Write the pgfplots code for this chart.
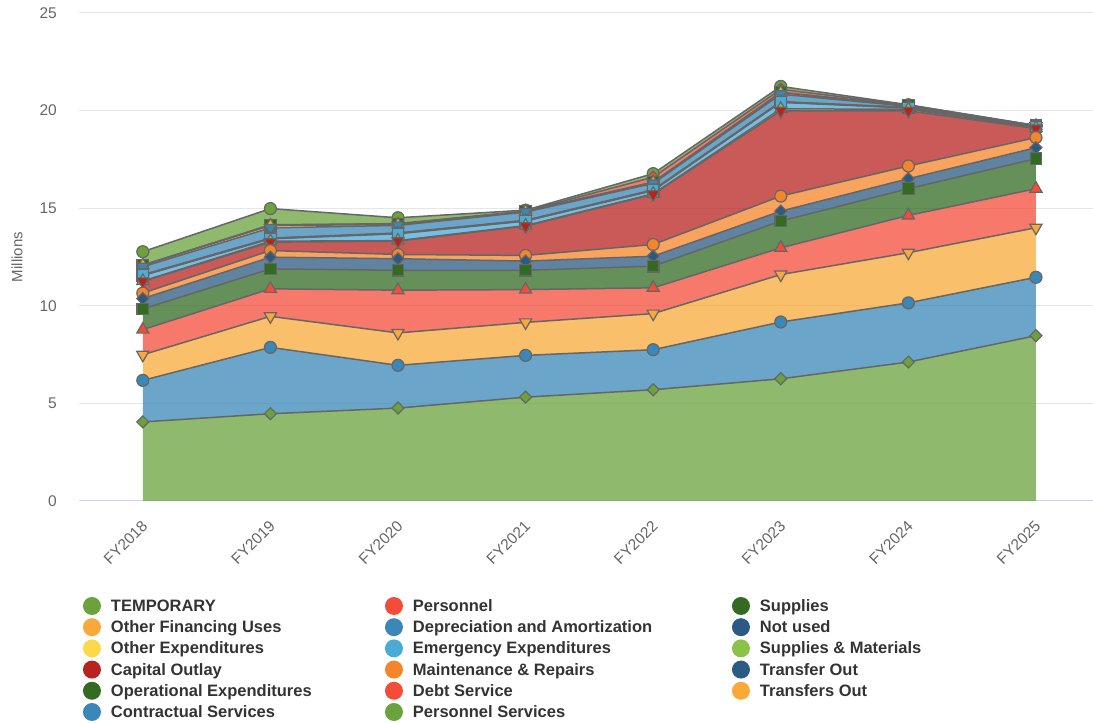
\documentclass[border=0pt]{standalone}
\usepackage{pgfplots}
\pgfplotsset{compat=1.18}
\usepackage{pgfplotstable}
\usepackage{fontspec}
\setmainfont{Liberation Sans}

\definecolor{cTE}{HTML}{6AA23C}
\definecolor{cPE}{HTML}{F34C3B}
\definecolor{cSU}{HTML}{336B22}
\definecolor{cOFU}{HTML}{F8A93A}
\definecolor{cDA}{HTML}{3A87B8}
\definecolor{cNU}{HTML}{2B5A82}
\definecolor{cOX}{HTML}{FCD94A}
\definecolor{cEE}{HTML}{4AAAD8}
\definecolor{cSM}{HTML}{8BC34A}
\definecolor{cCO}{HTML}{B8231F}
\definecolor{cMR}{HTML}{F5852A}
\definecolor{cTrO}{HTML}{2B5A82}
\definecolor{cOE}{HTML}{336B22}
\definecolor{cDS}{HTML}{F34C3B}
\definecolor{cTO}{HTML}{F8A93A}
\definecolor{cCS}{HTML}{3A87B8}
\definecolor{cPS}{HTML}{6AA23C}
\definecolor{tickgray}{HTML}{666666}
\definecolor{gridgray}{HTML}{E6E6E6}
\definecolor{axisblue}{HTML}{CCD6EB}
\definecolor{linegray}{HTML}{666666}
\definecolor{legtext}{HTML}{333333}

% values per series (millions), stacked bottom (PS) to top (TE)
\pgfplotstableread{
x PS   CS   TO   DS   OE   TrO  MR   CO   SM   EE   OX   NU   DA   OFU  SU   PE   TE
0 4.05 2.13 1.31 1.29 1.06 0.53 0.28 0.60 0.02 0.28 0.02 0.02 0.41 0.08 0.00 0.00 0.69
1 4.47 3.40 1.59 1.41 1.02 0.60 0.34 0.43 0.05 0.12 0.02 0.02 0.52 0.12 0.02 0.02 0.83
2 4.76 2.19 1.66 2.19 1.02 0.59 0.22 0.68 0.03 0.35 0.02 0.02 0.39 0.05 0.02 0.02 0.30
3 5.32 2.14 1.69 1.68 0.99 0.47 0.29 1.50 0.03 0.23 0.02 0.02 0.42 0.03 0.01 0.01 0.05
4 5.70 2.05 1.85 1.32 1.11 0.51 0.60 2.57 0.03 0.16 0.02 0.02 0.33 0.05 0.02 0.25 0.18
5 6.26 2.91 2.43 1.37 1.37 0.51 0.77 4.37 0.10 0.33 0.02 0.02 0.38 0.08 0.02 0.15 0.15
6 7.12 3.03 2.57 1.91 1.37 0.51 0.65 2.83 0.08 0.06 0.02 0.02 0.05 0.02 0.02 0.02 0.02
7 8.47 2.99 2.54 2.00 1.54 0.56 0.52 0.46 0.03 0.05 0.01 0.01 0.02 0.01 0.01 0.01 0.01
}\data

\tikzset{
  mk/.style={fill=#1, draw=linegray, line width=1.2pt},
}
\pgfplotsset{
  common/.style={
    at={(79pt,222pt)}, anchor=south west,
    scale only axis, width=1014pt, height=488pt,
    xmin=-0.5, xmax=7.447, ymin=0, ymax=25,
    stack plots=y,
  },
  ln/.style={line width=1.5pt, color=linegray, mark size=#1},
}

\begin{document}
\begin{tikzpicture}
\useasboundingbox (0,0) rectangle (1093pt,723pt);
\begin{axis}[common,
  xtick={0,...,7},
  xticklabels={FY2018,FY2019,FY2020,FY2021,FY2022,FY2023,FY2024,FY2025},
  ytick={0,5,10,15,20,25},
  ymajorgrids, grid style={draw=gridgray, line width=1pt},
  axis x line*=bottom, axis y line*=left,
  x axis line style={draw=axisblue, line width=1pt, -},
  y axis line style={draw=none},
  major tick length=0pt,
  /pgf/number format/assume math mode=true,
  tick label style={font=\fontsize{15.5}{18}\selectfont, text=tickgray},
  yticklabel style={anchor=east, inner sep=0pt, xshift=-22pt},
  xticklabel style={inner sep=0pt, xshift=2pt, yshift=-22pt, rotate=45, anchor=east},
  ylabel={Millions},
  every axis y label/.style={at={(axis description cs:-0.0611,0.5)}, rotate=90, anchor=center, font=\fontsize{15}{18}\selectfont, text=tickgray},
  legend image code/.code={\fill[#1, draw=none] (9pt,1.6pt) circle (9pt);},
  legend columns=3,
  legend style={at={(axis description cs:0.0039,-0.1967)}, anchor=north west,
    draw=none, fill=none, inner sep=0pt, outer sep=0pt, row sep=2.6pt,
    font=\fontsize{16.5}{19}\selectfont\bfseries, text=legtext,
    nodes={inner sep=0pt, text height=12pt, text depth=4pt},
    /tikz/every odd column/.append style={column sep=10pt},
    /tikz/every even column/.append style={column sep=0pt}},
  legend cell align=left,
]
\addlegendimage{fill=cTE}\addlegendentry{\makebox[274pt][l]{TEMPORARY}}
\addlegendimage{fill=cPE}\addlegendentry{\makebox[319pt][l]{Personnel}}
\addlegendimage{fill=cSU}\addlegendentry{Supplies}
\addlegendimage{fill=cOFU}\addlegendentry{\makebox[274pt][l]{Other Financing Uses}}
\addlegendimage{fill=cDA}\addlegendentry{\makebox[319pt][l]{Depreciation and Amortization}}
\addlegendimage{fill=cNU}\addlegendentry{Not used}
\addlegendimage{fill=cOX}\addlegendentry{\makebox[274pt][l]{Other Expenditures}}
\addlegendimage{fill=cEE}\addlegendentry{\makebox[319pt][l]{Emergency Expenditures}}
\addlegendimage{fill=cSM}\addlegendentry{Supplies \& Materials}
\addlegendimage{fill=cCO}\addlegendentry{\makebox[274pt][l]{Capital Outlay}}
\addlegendimage{fill=cMR}\addlegendentry{\makebox[319pt][l]{Maintenance \& Repairs}}
\addlegendimage{fill=cTrO}\addlegendentry{Transfer Out}
\addlegendimage{fill=cOE}\addlegendentry{\makebox[274pt][l]{Operational Expenditures}}
\addlegendimage{fill=cDS}\addlegendentry{\makebox[319pt][l]{Debt Service}}
\addlegendimage{fill=cTO}\addlegendentry{Transfers Out}
\addlegendimage{fill=cCS}\addlegendentry{\makebox[274pt][l]{Contractual Services}}
\addlegendimage{fill=cPS}\addlegendentry{\makebox[319pt][l]{Personnel Services}}

\pgfplotsinvokeforeach{PS,CS,TO,DS,OE,TrO,MR,CO,SM,EE,OX,NU,DA,OFU,SU,PE,TE}{
  \addplot[draw=none, fill=c#1, fill opacity=0.75, forget plot] table[x=x,y=#1]{\data} \closedcycle;
}
\end{axis}

\begin{axis}[common, hide axis, clip=false]
\addplot[ln=6pt, mark=diamond*, mark options={mk=cPS, xscale=1.33}] table[x=x,y=PS]{\data};
\addplot[ln=6pt, mark=*, mark options={mk=cCS}] table[x=x,y=CS]{\data};
\addplot[ln=7pt, mark=triangle*, mark options={mk=cTO, rotate=180}] table[x=x,y=TO]{\data};
\addplot[ln=7pt, mark=triangle*, mark options={mk=cDS}] table[x=x,y=DS]{\data};
\addplot[ln=5.8pt, mark=square*, mark options={mk=cOE}] table[x=x,y=OE]{\data};
\addplot[ln=6pt, mark=diamond*, mark options={mk=cTrO, xscale=1.33}] table[x=x,y=TrO]{\data};
\addplot[ln=6pt, mark=*, mark options={mk=cMR}] table[x=x,y=MR]{\data};
\addplot[ln=7pt, mark=triangle*, mark options={mk=cCO, rotate=180}] table[x=x,y=CO]{\data};
\addplot[ln=7pt, mark=triangle*, mark options={mk=cSM}] table[x=x,y=SM]{\data};
\addplot[ln=5.8pt, mark=square*, mark options={mk=cEE}] table[x=x,y=EE]{\data};
\addplot[ln=6pt, mark=diamond*, mark options={mk=cOX, xscale=1.33}] table[x=x,y=OX]{\data};
\addplot[ln=6pt, mark=*, mark options={mk=cNU}] table[x=x,y=NU]{\data};
\addplot[ln=7pt, mark=triangle*, mark options={mk=cDA, rotate=180}] table[x=x,y=DA]{\data};
\addplot[ln=7pt, mark=triangle*, mark options={mk=cOFU}] table[x=x,y=OFU]{\data};
\addplot[ln=5.8pt, mark=square*, mark options={mk=cSU}] table[x=x,y=SU]{\data};
\addplot[ln=6pt, mark=diamond*, mark options={mk=cPE, xscale=1.33}] table[x=x,y=PE]{\data};
\addplot[ln=6pt, mark=*, mark options={mk=cTE}] table[x=x,y=TE]{\data};
\end{axis}
\end{tikzpicture}
\end{document}
